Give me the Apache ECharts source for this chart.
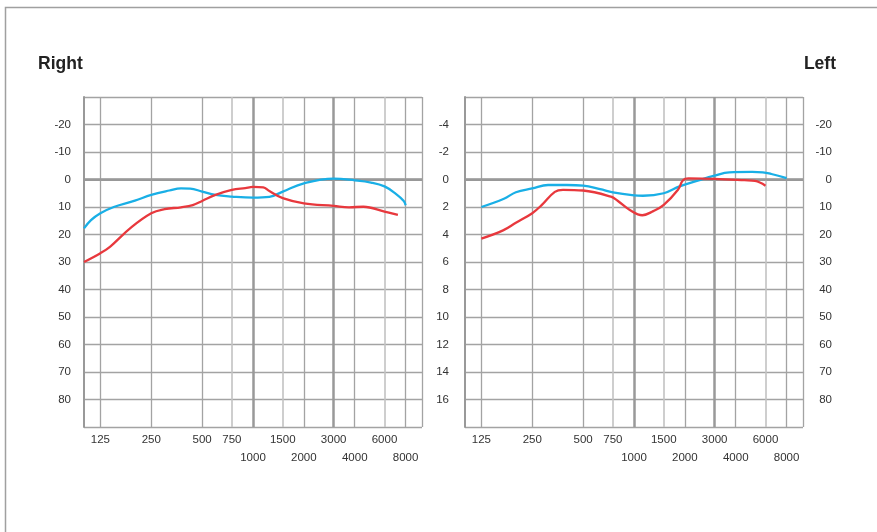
<!DOCTYPE html>
<html>
<head>
<meta charset="utf-8">
<style>
html, body { margin: 0; padding: 0; background: #fff; }
#chart { width: 877px; height: 532px; }
</style>
<script src="https://cdn.jsdelivr.net/npm/echarts@6/dist/echarts.min.js"></script>
</head>
<body>
<div id="chart"></div>
<script>
// [frequency Hz, value]
const rightBlue = [[100, 17.8], [110, 14.8], [125, 12.3], [150, 10], [200, 7.7], [250, 5.6], [320, 4], [375, 3.2], [425, 3.3], [500, 4.4], [600, 5.6], [750, 6.2], [1000, 6.6], [1250, 6.3], [1500, 4.4], [2000, 1.4], [3000, -0.3], [4000, 0.3], [5000, 1.1], [6000, 2.5], [7000, 5.2], [7800, 7.8], [8000, 9.4]]
const rightRed = [[100, 30], [125, 26.8], [143, 24.4], [188, 17.7], [250, 12.3], [300, 10.8], [375, 10.1], [440, 9.3], [500, 7.8], [600, 5.6], [750, 3.8], [900, 3.1], [1000, 2.7], [1150, 2.9], [1250, 4.2], [1500, 6.8], [2000, 8.7], [3000, 9.6], [3700, 10.1], [4500, 9.9], [6000, 11.7], [7200, 12.9]]
const leftBlue = [[125, 2.0], [170, 1.4], [200, 0.93], [250, 0.65], [310, 0.4], [400, 0.4], [500, 0.45], [630, 0.7], [750, 0.93], [1000, 1.15], [1130, 1.18], [1500, 1.0], [1860, 0.5], [2440, 0.04], [3000, -0.28], [3660, -0.52], [5000, -0.55], [5780, -0.52], [6500, -0.4], [8000, -0.1]]
const leftRed = [[125, 4.3], [168, 3.7], [200, 3.15], [250, 2.45], [285, 1.85], [340, 0.9], [380, 0.75], [500, 0.8], [730, 1.25], [800, 1.55], [940, 2.2], [1120, 2.6], [1300, 2.3], [1500, 1.85], [1820, 0.75], [1950, 0.05], [2100, -0.08], [3000, -0.05], [4500, 0.05], [5200, 0.1], [6000, 0.45]]

const topRowFreqs = [125, 250, 500, 750, 1500, 3000, 6000]
const bottomRowFreqs = [1000, 2000, 4000, 8000]
const octaveFreqs = [125, 250, 500, 2000, 4000, 8000, 10000]
const halfFreqs = [750, 1500, 6000]
const boldFreqs = [1000, 3000]

const font = 'Liberation Sans'
const labelColor = '#333'

function vLines() {
  const out = []
  octaveFreqs.forEach(f => out.push({ xAxis: f, lineStyle: { color: '#a3a3a3', width: 1.3, type: 'solid' } }))
  halfFreqs.forEach(f => out.push({ xAxis: f, lineStyle: { color: '#c2c2c2', width: 1.6, type: 'solid' } }))
  boldFreqs.forEach(f => out.push({ xAxis: f, lineStyle: { color: '#999', width: 2.5, type: 'solid' } }))
  out.push({ yAxis: 0, lineStyle: { color: '#999', width: 2.5, type: 'solid' } })
  return out
}

function freqAxes(gridIndex) {
  const base = {
    type: 'log',
    gridIndex: gridIndex,
    logBase: 10,
    min: 100,
    max: 10000,
    position: 'bottom',
    axisTick: { show: false },
    splitLine: { show: false }
  }
  return [
    Object.assign({}, base, {
      axisLine: { show: true, lineStyle: { color: '#999', width: 2 } },
      axisLabel: {
        customValues: topRowFreqs,
        margin: 7,
        color: labelColor,
        fontSize: 11.5,
        fontFamily: font,
        formatter: v => String(Math.round(v))
      }
    }),
    Object.assign({}, base, {
      axisLine: { show: false },
      axisLabel: {
        customValues: bottomRowFreqs,
        margin: 25,
        color: labelColor,
        fontSize: 11.5,
        fontFamily: font,
        formatter: v => String(Math.round(v))
      }
    })
  ]
}

function levelAxis(gridIndex, min, max, step, position, extra) {
  return Object.assign({
    type: 'value',
    gridIndex: gridIndex,
    position: position,
    inverse: true,
    min: min,
    max: max,
    interval: step,
    axisTick: { show: false },
    axisLine: { show: true, lineStyle: { color: '#999', width: 2 } },
    axisLabel: {
      showMinLabel: false,
      showMaxLabel: false,
      color: labelColor,
      fontSize: 11.5,
      fontFamily: font
    },
    splitLine: { show: true, lineStyle: { color: '#a3a3a3', width: 1.3 } }
  }, extra || {})
}

function curve(data, color, xi, yi) {
  return {
    type: 'line',
    xAxisIndex: xi,
    yAxisIndex: yi,
    data: data,
    smooth: 0.4,
    showSymbol: false,
    symbol: 'none',
    z: 5,
    lineStyle: { color: color, width: 2.3 }
  }
}

function gridLines(xi, yi) {
  return {
    type: 'line',
    xAxisIndex: xi,
    yAxisIndex: yi,
    data: [],
    z: 1,
    markLine: {
      silent: true,
      symbol: ['none', 'none'],
      label: { show: false },
      animation: false,
      data: vLines()
    }
  }
}

const blue = '#19afe6'
const red = '#e8383d'

const chart = echarts.init(document.getElementById('chart'))
chart.setOption({
  animation: false,
  backgroundColor: '#fff',
  title: [{
    text: 'Right',
    left: 38,
    top: 55,
    padding: 0,
    textStyle: { fontSize: 17.5, fontWeight: 'bold', color: '#222', fontFamily: font }
  }, {
    text: 'Left',
    right: 41,
    top: 55,
    padding: 0,
    textStyle: { fontSize: 17.5, fontWeight: 'bold', color: '#222', fontFamily: font }
  }],
  graphic: [{
    type: 'polyline',
    shape: { points: [[5.5, 532], [5.5, 7.5], [877, 7.5]] },
    style: { stroke: '#a0a0a0', lineWidth: 1.5, fill: null }
  }],
  grid: [
    { left: 84, top: 97, width: 338, height: 330 },
    { left: 465, top: 97, width: 338, height: 330 }
  ],
  xAxis: freqAxes(0).concat(freqAxes(1)),
  yAxis: [
    levelAxis(0, -30, 90, 10, 'left', { axisLabel: { showMinLabel: false, showMaxLabel: false, margin: 13, color: labelColor, fontSize: 11.5, fontFamily: font } }),
    levelAxis(1, -6, 18, 2, 'left', { axisLabel: { showMinLabel: false, showMaxLabel: false, margin: 16, color: labelColor, fontSize: 11.5, fontFamily: font } }),
    levelAxis(1, -30, 90, 10, 'right', {
      axisLine: { show: false },
      splitLine: { show: false },
      axisLabel: { showMinLabel: false, showMaxLabel: false, margin: 29, align: 'right', color: labelColor, fontSize: 11.5, fontFamily: font }
    })
  ],
  series: [
    gridLines(0, 0),
    curve(rightBlue, blue, 0, 0),
    curve(rightRed, red, 0, 0),
    gridLines(2, 1),
    curve(leftBlue, blue, 2, 1),
    curve(leftRed, red, 2, 1)
  ]
})
</script>
</body>
</html>
